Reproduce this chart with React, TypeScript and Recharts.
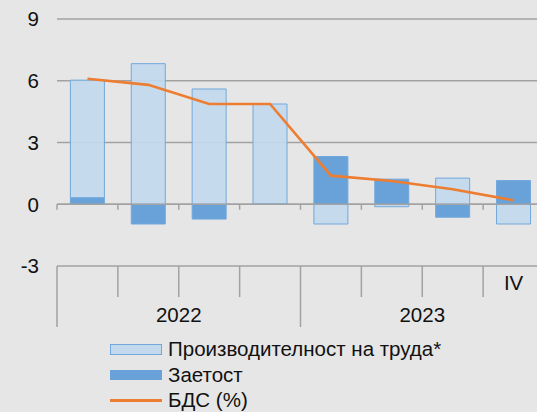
import React from "react";
import {
  ComposedChart,
  Bar,
  Line,
  XAxis,
  YAxis,
  CartesianGrid,
  ReferenceLine,
} from "recharts";

const categories = ["2022 I", "2022 II", "2022 III", "2022 IV", "2023 I", "2023 II", "2023 III", "2023 IV"];
const tickLabels = ["", "", "", "", "", "", "", "IV"];
const years = ["2022", "2022", "2022", "2022", "2023", "2023", "2023", "2023"];
const productivity = [5.71, 6.83, 5.6, 4.85, -0.96, -0.12, 1.27, -0.96];
const employment = [0.32, -0.96, -0.72, 0.02, 2.32, 1.22, -0.63, 1.15];
const gdp = [6.1, 5.8, 4.87, 4.87, 1.39, 1.13, 0.73, 0.19];
const yTicks = [-3, 0, 3, 6, 9];

const seriesNames = {
  productivity: "Производителност на труда*",
  employment: "Заетост",
  gdp: "БДС (%)",
};

const data = categories.map((c, i) => ({
  cat: c,
  productivity: productivity[i],
  employment: employment[i],
  gdp: gdp[i],
}));

const FONT = '"Liberation Sans", Arial, sans-serif';
const FS = 20.5;
const TEXT = "#111";
const GRID = "#a2a2a2";
const LIGHT_FILL = "#c3d9ee";
const DARK_FILL = "#68a2d8";
const BAR_STROKE = "#72a8dc";
const ORANGE = "#ed7d31";

const CategoryTick = (props: any) => {
  const { x, y, payload, index, width, visibleTicksCount } = props;
  const half =
    payload && typeof payload.offset === "number" && payload.offset > 0
      ? payload.offset
      : width / visibleTicksCount / 2;
  const left = x - half;
  const isYearStart = index % 4 === 0;
  return (
    <g>
      <line
        x1={left}
        x2={left}
        y1={y}
        y2={y + (isYearStart ? 61 : 31)}
        stroke={GRID}
        strokeWidth={1.5}
      />
      <text
        x={x}
        y={y + 17}
        dy="0.355em"
        textAnchor="middle"
        fontSize={FS}
        fontFamily={FONT}
        fill={TEXT}
      >
        {tickLabels[index]}
      </text>
      {index % 4 === 2 ? (
        <text
          x={left}
          y={y + 49}
          dy="0.355em"
          textAnchor="middle"
          fontSize={FS}
          fontFamily={FONT}
          fill={TEXT}
        >
          {years[index]}
        </text>
      ) : null}
    </g>
  );
};

const ZeroAxis = (props: any) => {
  const { x1, x2, y1 } = props;
  const n = categories.length;
  const step = (x2 - x1) / n;
  const marks = [];
  for (let k = 0; k <= n; k++) {
    const xx = x1 + k * step;
    marks.push(
      <line key={k} x1={xx} x2={xx} y1={y1} y2={y1 + 5.5} stroke={GRID} strokeWidth={1.5} />
    );
  }
  return (
    <g>
      <line x1={x1} x2={x2} y1={y1} y2={y1} stroke={GRID} strokeWidth={1.5} />
      {marks}
    </g>
  );
};

const legendRow: React.CSSProperties = {
  display: "flex",
  alignItems: "center",
  height: 25.7,
};

export default function App() {
  return (
    <div
      style={{
        position: "fixed",
        left: 0,
        top: 0,
        width: 537,
        height: 412,
        overflow: "hidden",
        background: "#e6e6e6",
        fontFamily: FONT,
      }}
    >
      <ComposedChart
        width={548}
        height={340}
        data={data}
        stackOffset="sign"
        barCategoryGap="22%"
        margin={{ top: 19, right: 4, left: 0, bottom: 0 }}
      >
        <CartesianGrid horizontal vertical={false} stroke={GRID} strokeWidth={1.5} />
        <XAxis
          dataKey="cat"
          axisLine={false}
          tickLine={false}
          tickSize={0}
          tickMargin={0}
          interval={0}
          height={74}
          tick={<CategoryTick />}
        />
        <YAxis
          domain={[-3, 9]}
          ticks={yTicks}
          axisLine={false}
          tickLine={false}
          tickSize={0}
          tickMargin={18}
          width={57}
          tick={{ fontSize: FS, fontFamily: FONT, fill: TEXT }}
        />
        <Bar
          dataKey="employment"
          name={seriesNames.employment}
          stackId="a"
          fill={DARK_FILL}
          stroke={BAR_STROKE}
          strokeWidth={1}
          isAnimationActive={false}
        />
        <Bar
          dataKey="productivity"
          name={seriesNames.productivity}
          stackId="a"
          fill={LIGHT_FILL}
          fillOpacity={0.92}
          stroke={BAR_STROKE}
          strokeWidth={1}
          isAnimationActive={false}
        />
        <ReferenceLine y={0} shape={<ZeroAxis />} />
        <Line
          dataKey="gdp"
          name={seriesNames.gdp}
          type="linear"
          stroke={ORANGE}
          strokeWidth={2.6}
          dot={false}
          isAnimationActive={false}
        />
      </ComposedChart>
      <div
        style={{
          position: "absolute",
          left: 110,
          top: 336.5,
          fontSize: FS,
          color: TEXT,
          lineHeight: 1,
        }}
      >
        <div style={legendRow}>
          <div
            style={{
              width: 50,
              height: 8.5,
              background: LIGHT_FILL,
              border: `1px solid ${BAR_STROKE}`,
              marginRight: 6,
            }}
          />
          <span>{seriesNames.productivity}</span>
        </div>
        <div style={legendRow}>
          <div
            style={{
              width: 52,
              height: 10.5,
              background: DARK_FILL,
              marginRight: 6,
            }}
          />
          <span>{seriesNames.employment}</span>
        </div>
        <div style={legendRow}>
          <div
            style={{
              width: 52,
              height: 2.5,
              background: ORANGE,
              marginRight: 6,
            }}
          />
          <span>{seriesNames.gdp}</span>
        </div>
      </div>
    </div>
  );
}
